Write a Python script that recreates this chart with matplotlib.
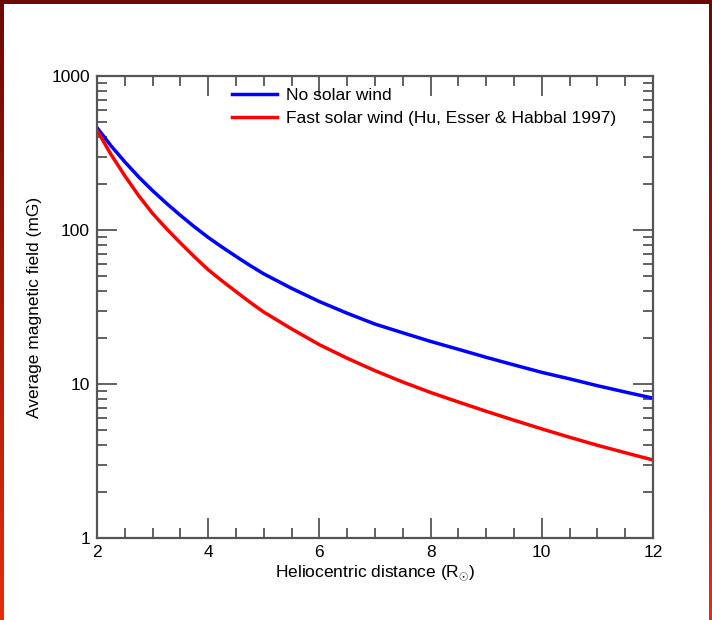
import numpy as np
import matplotlib
matplotlib.use("Agg")
import matplotlib.pyplot as plt
from matplotlib.patches import Rectangle
from matplotlib.ticker import MultipleLocator, LogLocator, FixedFormatter, FixedLocator, NullFormatter

plt.rcParams['font.family'] = ['Liberation Sans', 'DejaVu Sans']
plt.rcParams['mathtext.fontset'] = 'custom'
plt.rcParams['mathtext.rm'] = 'Liberation Sans'

# heliocentric distance in solar radii
r_sun = [2.0, 2.25, 2.5, 2.75, 3.0, 3.25, 3.5, 3.75, 4.0, 4.25, 4.5, 4.75, 5.0,
         5.5, 6.0, 6.5, 7.0, 7.5, 8.0, 8.5, 9.0, 9.5, 10.0, 10.5, 11.0, 11.5, 12.0]
# average field, no wind (mG)
b_static = [462, 353, 277, 221, 180, 149, 124.5, 105, 89.5, 77.4, 67.4, 58.9, 51.9,
            41.8, 34.3, 28.8, 24.5, 21.5, 18.9, 16.8, 14.9, 13.3, 11.9, 10.8, 9.75, 8.87, 8.09]
# average field, fast wind (mG)
b_fast = [445, 310, 225, 167, 128, 102, 82.4, 67.1, 55.2, 46.7, 39.8, 34.0, 29.3,
          22.8, 18.0, 14.7, 12.2, 10.3, 8.81, 7.64, 6.65, 5.82, 5.11, 4.51, 4.00, 3.58, 3.21]

fig = plt.figure(figsize=(7.12, 6.2), dpi=100)

# red frame behind the white page
bg = fig.add_axes([0, 0, 1, 1], zorder=-10)
grad = np.linspace(0, 1, 256).reshape(-1, 1)
top_c = np.array([0x6c, 0x08, 0x02]) / 255
bot_c = np.array([0xea, 0x2a, 0x0e]) / 255
img = top_c[None, None, :] * (1 - grad[:, :, None]) + bot_c[None, None, :] * grad[:, :, None]
bg.imshow(img, aspect='auto', extent=[0, 1, 0, 1], origin='upper')
W, H = 712, 620
bg.add_patch(Rectangle((4 / W, 0), 1 - 7 / W, 1 - 4 / H, color='white', lw=0))
bg.set_xlim(0, 1)
bg.set_ylim(0, 1)
bg.axis('off')

ax = fig.add_axes([97 / W, 1 - 538 / H, (653 - 97) / W, (538 - 76) / H])
ax.patch.set_alpha(0)

ax.plot(r_sun, b_static, color='#0000ff', lw=2.5, label='No solar wind')
ax.plot(r_sun, b_fast, color='#ff0000', lw=2.5, label='Fast solar wind (Hu, Esser & Habbal 1997)')

ax.set_yscale('log')
ax.set_xlim(2, 12)
ax.set_ylim(1, 1000)

ax.xaxis.set_major_locator(MultipleLocator(2))
ax.xaxis.set_minor_locator(MultipleLocator(0.5))
ax.yaxis.set_major_locator(FixedLocator([1, 10, 100, 1000]))
ax.yaxis.set_major_formatter(FixedFormatter(['1', '10', '100', '1000']))
ax.yaxis.set_minor_locator(LogLocator(base=10, subs=np.arange(2, 10)))
ax.yaxis.set_minor_formatter(NullFormatter())

axis_gray = '#555555'
for s in ax.spines.values():
    s.set_color(axis_gray)
    s.set_linewidth(1.6)
ax.tick_params(which='both', direction='in', top=True, right=True, color=axis_gray,
               labelsize=12.5, labelcolor='black')
ax.tick_params(which='major', length=14.5, width=1.3, pad=5)
ax.tick_params(which='minor', length=7.5, width=1.3)

ax.set_xlabel(r'Heliocentric distance (R$_{\odot}$)', fontsize=12.5, labelpad=2)
ax.set_ylabel('Average magnetic field (mG)', fontsize=12.5, labelpad=7)

ax.legend(loc='upper left', bbox_to_anchor=(0.23, 0.99), frameon=False, fontsize=12.5,
          handlelength=2.6, handletextpad=0.5, labelspacing=0.45, borderaxespad=0)

fig.savefig('out.png', dpi=100)
